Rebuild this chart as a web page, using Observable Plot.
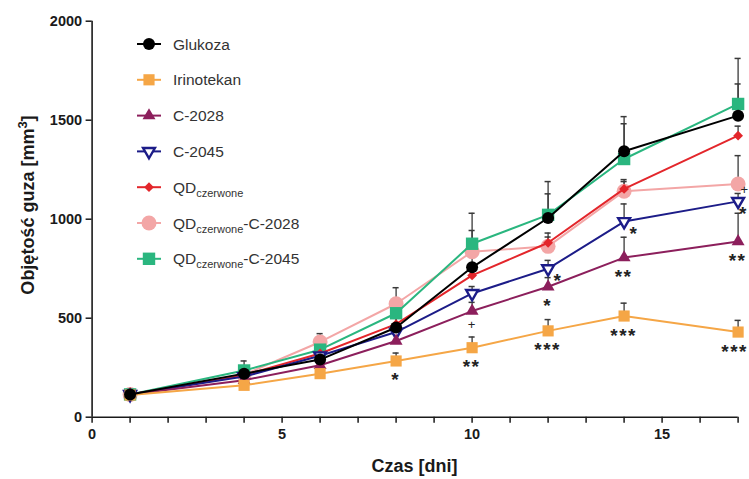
<!DOCTYPE html>
<html>
<head>
<meta charset="utf-8">
<script src="https://cdn.jsdelivr.net/npm/d3@7"></script>
<script src="https://cdn.jsdelivr.net/npm/@observablehq/plot@0.6"></script>
<style>
  html, body { margin: 0; padding: 0; background: #fff; }
  #chart { width: 749px; height: 479px; }
</style>
</head>
<body>
<div id="chart"></div>
<script>
// ---------- data ----------
const days = [1, 4, 6, 8, 10, 12, 14, 17];
const xTicks = [0,1,2,3,4,5,6,7,8,9,10,11,12,13,14,15,16,17];
const xTickLabels = [0, 5, 10, 15];
const yTicks = [0, 500, 1000, 1500, 2000];

const seriesNames = ["Glukoza", "Irinotekan", "C-2028", "C-2045", "QD-czerwone", "QD-czerwone-C-2028", "QD-czerwone-C-2045"];

const glukoza    = [115, 220, 291, 453, 757, 1006, 1343, 1523];
const irinotekan = [112, 161, 220, 284, 351, 436, 511, 430];
const c2028      = [115, 187, 262, 385, 536, 659, 806, 887];
const c2045      = [115, 205, 310, 430, 625, 750, 988, 1090];
const qd         = [115, 212, 322, 470, 716, 881, 1153, 1422];
const qd2028     = [115, 215, 380, 573, 836, 863, 1141, 1178];
const qd2045     = [115, 236, 341, 525, 876, 1022, 1304, 1582];

// upper ends of the error bars
const glukozaErr    = [140, 260, 330, 500, 943, 1128, 1518, 1683];
const irinotekanErr = [130, 180, 240, 324, 405, 493, 576, 489];
const c2028Err      = [130, 205, 290, 420, 580, 705, 909, 1030];
const c2045Err      = [130, 225, 340, 470, 660, 792, 1077, 1130];
const qdErr         = [130, 235, 350, 510, 760, 930, 1200, 1470];
const qd2028Err     = [135, 245, 422, 654, 880, 910, 1190, 1321];
const qd2045Err     = [140, 284, 380, 570, 1030, 1190, 1482, 1812];

// significance marks: series, day, label, placement
const annotations = [
  ["Irinotekan", 8, "*", "below"],
  ["Irinotekan", 10, "**", "below"],
  ["C-2028", 10, "+", "below"],
  ["Irinotekan", 12, "***", "below"],
  ["C-2028", 12, "*", "below"],
  ["C-2045", 12, "*", "right"],
  ["Irinotekan", 14, "***", "below"],
  ["C-2028", 14, "**", "below"],
  ["C-2045", 14, "*", "right"],
  ["Irinotekan", 17, "***", "below"],
  ["C-2028", 17, "**", "below"],
  ["C-2045", 17, "*", "right"],
  ["QD-czerwone-C-2028", 17, "+", "right"]
];

// legend label parts: [main, subscript, suffix]
const legendLabels = [
  ["Glukoza", "", ""],
  ["Irinotekan", "", ""],
  ["C-2028", "", ""],
  ["C-2045", "", ""],
  ["QD", "czerwone", ""],
  ["QD", "czerwone", "-C-2028"],
  ["QD", "czerwone", "-C-2045"]
];

// ---------- styles ----------
const sqrt3 = Math.sqrt(3);
const triDown = {
  draw(ctx, size) {
    const h = Math.sqrt(size / (sqrt3 * 3));
    ctx.moveTo(0, 2 * h);
    ctx.lineTo(sqrt3 * h, -h);
    ctx.lineTo(-sqrt3 * h, -h);
    ctx.closePath();
  }
};
const styles = {
  "Glukoza":            {color: "#000000", symbol: d3.symbolCircle,   r: 6,   fill: "#000000"},
  "Irinotekan":         {color: "#F5A646", symbol: d3.symbolSquare,   r: 6.3, fill: "#F5A646"},
  "C-2028":             {color: "#8C1F5C", symbol: d3.symbolTriangle, r: 4.8, fill: "#8C1F5C"},
  "C-2045":             {color: "#1C1C88", symbol: triDown,           r: 4.4, fill: "#ffffff", sw: 2.4},
  "QD-czerwone":        {color: "#E3262B", symbol: d3.symbolDiamond2, r: 4.4, fill: "#E3262B"},
  "QD-czerwone-C-2028": {color: "#F3A6A6", symbol: d3.symbolCircle,   r: 7.5, fill: "#F3A6A6"},
  "QD-czerwone-C-2045": {color: "#2AB67F", symbol: d3.symbolSquare,   r: 7,   fill: "#2AB67F"}
};

const values = [glukoza, irinotekan, c2028, c2045, qd, qd2028, qd2045];
const errs = [glukozaErr, irinotekanErr, c2028Err, c2045Err, qdErr, qd2028Err, qd2045Err];

const rows = [];
seriesNames.forEach((s, i) => {
  days.forEach((d, j) => rows.push({series: s, day: d, value: values[i][j], top: errs[i][j]}));
});

const drawOrder = ["QD-czerwone-C-2028", "QD-czerwone-C-2045", "QD-czerwone", "C-2045", "C-2028", "Irinotekan", "Glukoza"];

const annRows = annotations.map(([s, d, label, place]) => {
  const r = rows.find(r => r.series === s && r.day === d);
  return {day: d, value: r.value, label, place};
});

const seriesMarks = [];
for (const s of drawOrder) {
  const st = styles[s];
  const data = rows.filter(r => r.series === s);
  seriesMarks.push(Plot.line(data, {x: "day", y: "value", stroke: st.color, strokeWidth: 2}));
  seriesMarks.push(Plot.dot(data, {
    x: "day", y: "value", symbol: st.symbol, r: st.r,
    fill: st.fill, stroke: st.sw ? st.color : "none", strokeWidth: st.sw || 0
  }));
}

const FONT = "'Liberation Sans', Arial, sans-serif";

const chart = Plot.plot({
  width: 749,
  height: 479,
  marginLeft: 91.6,
  marginRight: 11.4,
  marginTop: 20.7,
  marginBottom: 62.3,
  x: {domain: [0, 17]},
  y: {domain: [0, 2000]},
  style: {fontFamily: FONT, fontSize: "14.5px", fontWeight: "bold", color: "#1a1a1a", background: "#fff"},
  marks: [
    Plot.axisX({ticks: xTicks, tickFormat: d => xTickLabels.includes(d) ? String(d) : "", tickSize: 6, tickPadding: 6, strokeWidth: 1.5, label: null}),
    Plot.axisY({ticks: yTicks, tickFormat: d3.format("d"), tickSize: 6, tickPadding: 4, strokeWidth: 1.5, label: null}),
    Plot.ruleX([0], {strokeWidth: 1.6}),
    Plot.ruleY([0], {strokeWidth: 1.6}),
    // error bars
    Plot.ruleX(rows, {x: "day", y1: "value", y2: "top", stroke: "#3a3a3a", strokeWidth: 1.3}),
    Plot.ruleY(rows, {y: "top", x1: d => d.day - 0.08, x2: d => d.day + 0.08, stroke: "#3a3a3a", strokeWidth: 1.5}),
    ...seriesMarks
  ]
});

document.getElementById("chart").appendChild(chart);

const svg = d3.select(chart);
const xS = chart.scale("x"), yS = chart.scale("y");
const W = 749;

// significance annotations (positions from the scales)
const ann = svg.append("g").attr("font-family", FONT);
annRows.forEach(a => {
  const px = xS.apply(a.day), py = yS.apply(a.value);
  const isPlus = a.label === "+";
  let tx = px, ty = py, anchor = "middle";
  if (a.place === "below") { ty = py + (isPlus ? 18 : 26); }
  else { tx = px + 6; ty = py + (isPlus ? 11 : 19); anchor = "start"; }
  const t = ann.append("text")
    .attr("x", tx).attr("y", ty)
    .attr("text-anchor", anchor)
    .attr("font-size", isPlus ? 13 : 19)
    .attr("font-weight", isPlus ? "normal" : "bold")
    .attr("letter-spacing", isPlus ? 0 : 1.5)
    .attr("fill", "#222")
    .text(a.label);
  // keep inside the picture
  const bb = t.node().getBBox();
  if (bb.x + bb.width > W - 1) {
    t.attr("x", +t.attr("x") - (bb.x + bb.width - (W - 1)));
  }
});

// axis titles
svg.append("text")
  .attr("x", (91.6 + 737.6) / 2).attr("y", 472)
  .attr("text-anchor", "middle")
  .attr("font-size", 18).attr("font-weight", "bold").attr("fill", "#1a1a1a")
  .attr("font-family", FONT)
  .text("Czas [dni]");

const yt = svg.append("text")
  .attr("transform", "translate(34,205) rotate(-90)")
  .attr("text-anchor", "middle")
  .attr("font-size", 18).attr("font-weight", "bold").attr("fill", "#1a1a1a")
  .attr("font-family", FONT);
yt.append("tspan").text("Objętość guza [mm");
yt.append("tspan").attr("dy", -7).attr("font-size", 13).text("3");
yt.append("tspan").attr("dy", 7).text("]");

// legend
const lg = svg.append("g").attr("font-family", FONT).attr("text-anchor", "start");
seriesNames.forEach((s, i) => {
  const st = styles[s];
  const cy = 44 + i * 35.8;
  lg.append("line").attr("x1", 137).attr("x2", 161).attr("y1", cy).attr("y2", cy)
    .attr("stroke", st.color).attr("stroke-width", 2);
  lg.append("path")
    .attr("transform", `translate(149,${cy})`)
    .attr("d", d3.symbol(st.symbol, Math.PI * st.r * st.r)())
    .attr("fill", st.fill)
    .attr("stroke", st.sw ? st.color : "none")
    .attr("stroke-width", st.sw || 0);
  const [main, sub, suf] = legendLabels[i];
  const t = lg.append("text").attr("x", 173).attr("y", cy + 5.5)
    .attr("text-anchor", "start")
    .attr("font-size", 15.5).attr("font-weight", "normal").attr("fill", "#333");
  t.append("tspan").text(main);
  if (sub) {
    t.append("tspan").attr("dy", 4).attr("font-size", 11).text(sub);
    if (suf) t.append("tspan").attr("dy", -4).text(suf);
  }
});
</script>
</body>
</html>
